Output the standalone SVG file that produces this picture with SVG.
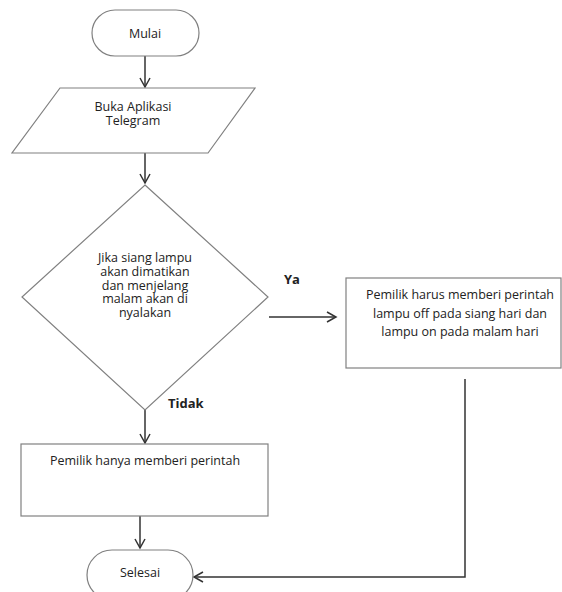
<svg xmlns="http://www.w3.org/2000/svg" width="562" height="592" viewBox="0 0 562 592">
<style>
.s{fill:#fff;stroke:#808080;stroke-width:1.2}
.t{font-family:"Open Sans","Noto Sans",sans-serif;font-size:12.5px;fill:#222;text-anchor:middle}
.b{font-family:"Open Sans","Noto Sans",sans-serif;font-size:13px;font-weight:bold;fill:#222}
.c{fill:none;stroke:#333;stroke-width:1.5}
</style>
<defs>
<marker id="a" markerWidth="12" markerHeight="12" refX="10" refY="6" orient="auto" markerUnits="userSpaceOnUse">
<path d="M1,1 L10,6 L1,11" fill="none" stroke="#333" stroke-width="1.5"/>
</marker>
</defs>
<rect width="562" height="592" fill="#fff"/>
<g id="connectors">
<line class="c" x1="145" y1="56" x2="145" y2="87" marker-end="url(#a)"/>
<line class="c" x1="145" y1="153" x2="145" y2="183" marker-end="url(#a)"/>
<line class="c" x1="269" y1="317" x2="336" y2="317" marker-end="url(#a)"/>
<line class="c" x1="145" y1="410" x2="145" y2="443" marker-end="url(#a)"/>
<line class="c" x1="140" y1="516" x2="140" y2="548" marker-end="url(#a)"/>
<polyline class="c" points="465,379 465,577 194,577" marker-end="url(#a)"/>
</g>
<g id="mulai">
<rect class="s" x="92" y="10" width="107" height="46" rx="23"/>
<text class="t" x="145" y="38">Mulai</text>
</g>
<g id="buka">
<polygon class="s" points="60,88 255,88 208,153 12,153"/>
<text class="t" x="133" y="111">Buka Aplikasi</text>
<text class="t" x="133" y="124.5">Telegram</text>
</g>
<g id="decision">
<polygon class="s" points="145,185 268,297 145,410 22,297"/>
<text class="t" x="145" y="262">Jika siang lampu</text>
<text class="t" x="145" y="275.75">akan dimatikan</text>
<text class="t" x="145" y="289.5">dan menjelang</text>
<text class="t" x="145" y="303.25">malam akan di</text>
<text class="t" x="145" y="317">nyalakan</text>
</g>
<g id="label-ya"><text class="b" x="284" y="284">Ya</text></g>
<g id="label-tidak"><text class="b" x="168" y="408">Tidak</text></g>
<g id="harus">
<rect class="s" x="346" y="278" width="215" height="90"/>
<text class="t" x="460" y="299">Pemilik harus memberi perintah</text>
<text class="t" x="460" y="317.5">lampu off pada siang hari dan</text>
<text class="t" x="460" y="336">lampu on pada malam hari</text>
</g>
<g id="hanya">
<rect class="s" x="21" y="444" width="247" height="72"/>
<text class="t" x="145" y="465">Pemilik hanya memberi perintah</text>
</g>
<g id="selesai">
<rect class="s" x="87" y="550" width="106" height="50" rx="25"/>
<text class="t" x="140" y="577">Selesai</text>
</g>
</svg>
